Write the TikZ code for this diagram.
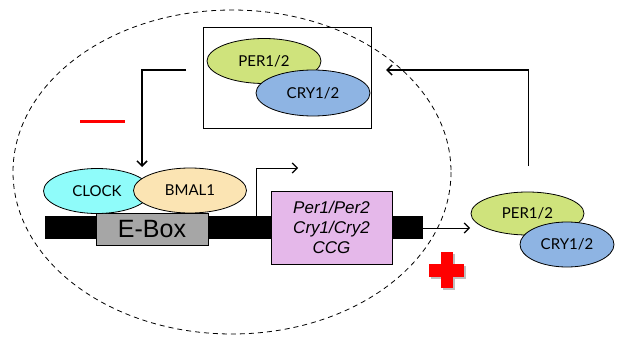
\documentclass[tikz,border=0pt]{standalone}
\usepackage{fontspec}
\setmainfont{Liberation Sans}
\newfontfamily\gill{Lato}
\usetikzlibrary{shapes.geometric,arrows.meta}
\definecolor{pergreen}{HTML}{CFE37C}
\definecolor{cryblue}{HTML}{8EB4E3}
\definecolor{clockcyan}{HTML}{8FFCFA}
\definecolor{bmalbeige}{HTML}{FBE4B3}
\definecolor{genepink}{HTML}{E5B8EA}
\definecolor{eboxgray}{HTML}{A6A6A6}
\definecolor{plusred}{HTML}{FF0000}
\tikzset{
  prot/.style={ellipse, draw=black, line width=0.8pt, inner sep=0pt, font=\gill\fontsize{15}{17}\selectfont},
  arr/.style={line width=1.5pt, -{Straight Barb[length=5pt,width=10pt,line width=1.5pt]}},
  thinarr/.style={line width=0.9pt, -{Straight Barb[length=5pt,width=10pt,line width=1.2pt]}},
}
\begin{document}
\begin{tikzpicture}[x=1pt,y=-1pt]
\useasboundingbox (0,0) rectangle (624,337);
% dashed nucleus
\draw[line width=0.8pt, dash pattern=on 5pt off 4pt] (232,172) ellipse [x radius=219, y radius=162];
% top box with complex
\node[draw=black, line width=0.9pt, minimum width=168pt, minimum height=101pt, inner sep=0pt] (topbox) at (287,77.5) {};
\node[prot, fill=pergreen, minimum width=114pt, minimum height=45pt] (per1) at (264,61) {PER1/2};
\node[prot, fill=cryblue, minimum width=114pt, minimum height=46pt] (cry1) at (313,93) {CRY1/2};
% DNA bar
\node[fill=black, minimum width=378pt, minimum height=23pt, inner sep=0pt] (bar) at (234,227.5) {};
\node[draw=black, line width=0.9pt, fill=eboxgray, minimum width=112pt, minimum height=32pt, inner sep=0pt, font=\fontsize{25}{28}\selectfont] (ebox) at (152,229) {E-Box};
\node[draw=black, line width=0.9pt, fill=genepink, minimum width=121pt, minimum height=73pt, inner sep=0pt, align=center, font=\itshape\fontsize{17}{20}\selectfont] (gene) at (331.5,227.5) {Per1/Per2\\Cry1/Cry2\\CCG};
\node[prot, fill=clockcyan, minimum width=107pt, minimum height=45pt] (clock) at (97,191) {CLOCK};
\node[prot, fill=bmalbeige, minimum width=113pt, minimum height=45pt] (bmal) at (190,190.5) {BMAL1};
% right complex
\node[prot, fill=pergreen, minimum width=113pt, minimum height=43pt] (per2) at (527.5,213.5) {PER1/2};
\node[prot, fill=cryblue, minimum width=94pt, minimum height=45pt] (cry2) at (567,244.5) {CRY1/2};
% connectors
\coordinate (fbstart) at (186,70);
\coordinate (fbcorner) at (142,70);
\coordinate (fbend) at (142,167);
\draw[arr] (fbstart) -- (fbcorner) -- (fbend);
\coordinate (rstart) at (528.5,166);
\coordinate (rcorner) at (528.5,70);
\coordinate (rend) at (386,70);
\draw[arr] (rstart) -- (rcorner) -- (rend);
\coordinate (tss) at (256,216);
\coordinate (tssc) at (256,168);
\coordinate (tsse) at (298,168);
\draw[thinarr] (tss) -- (tssc) -- (tsse);
\coordinate (barend) at (423,228);
\coordinate (protin) at (470,228);
\draw[thinarr] (barend) -- (protin);
% red minus
\draw[plusred, line width=3pt] (80,121) -- (125,121);
% red plus with shadow
\fill[black!25] (443,254) rectangle (455,290);
\fill[black!25] (431,266) rectangle (466,279);
\fill[plusred] (441,252) rectangle (453,288);
\fill[plusred] (429,264) rectangle (464,277);
\end{tikzpicture}
\end{document}
